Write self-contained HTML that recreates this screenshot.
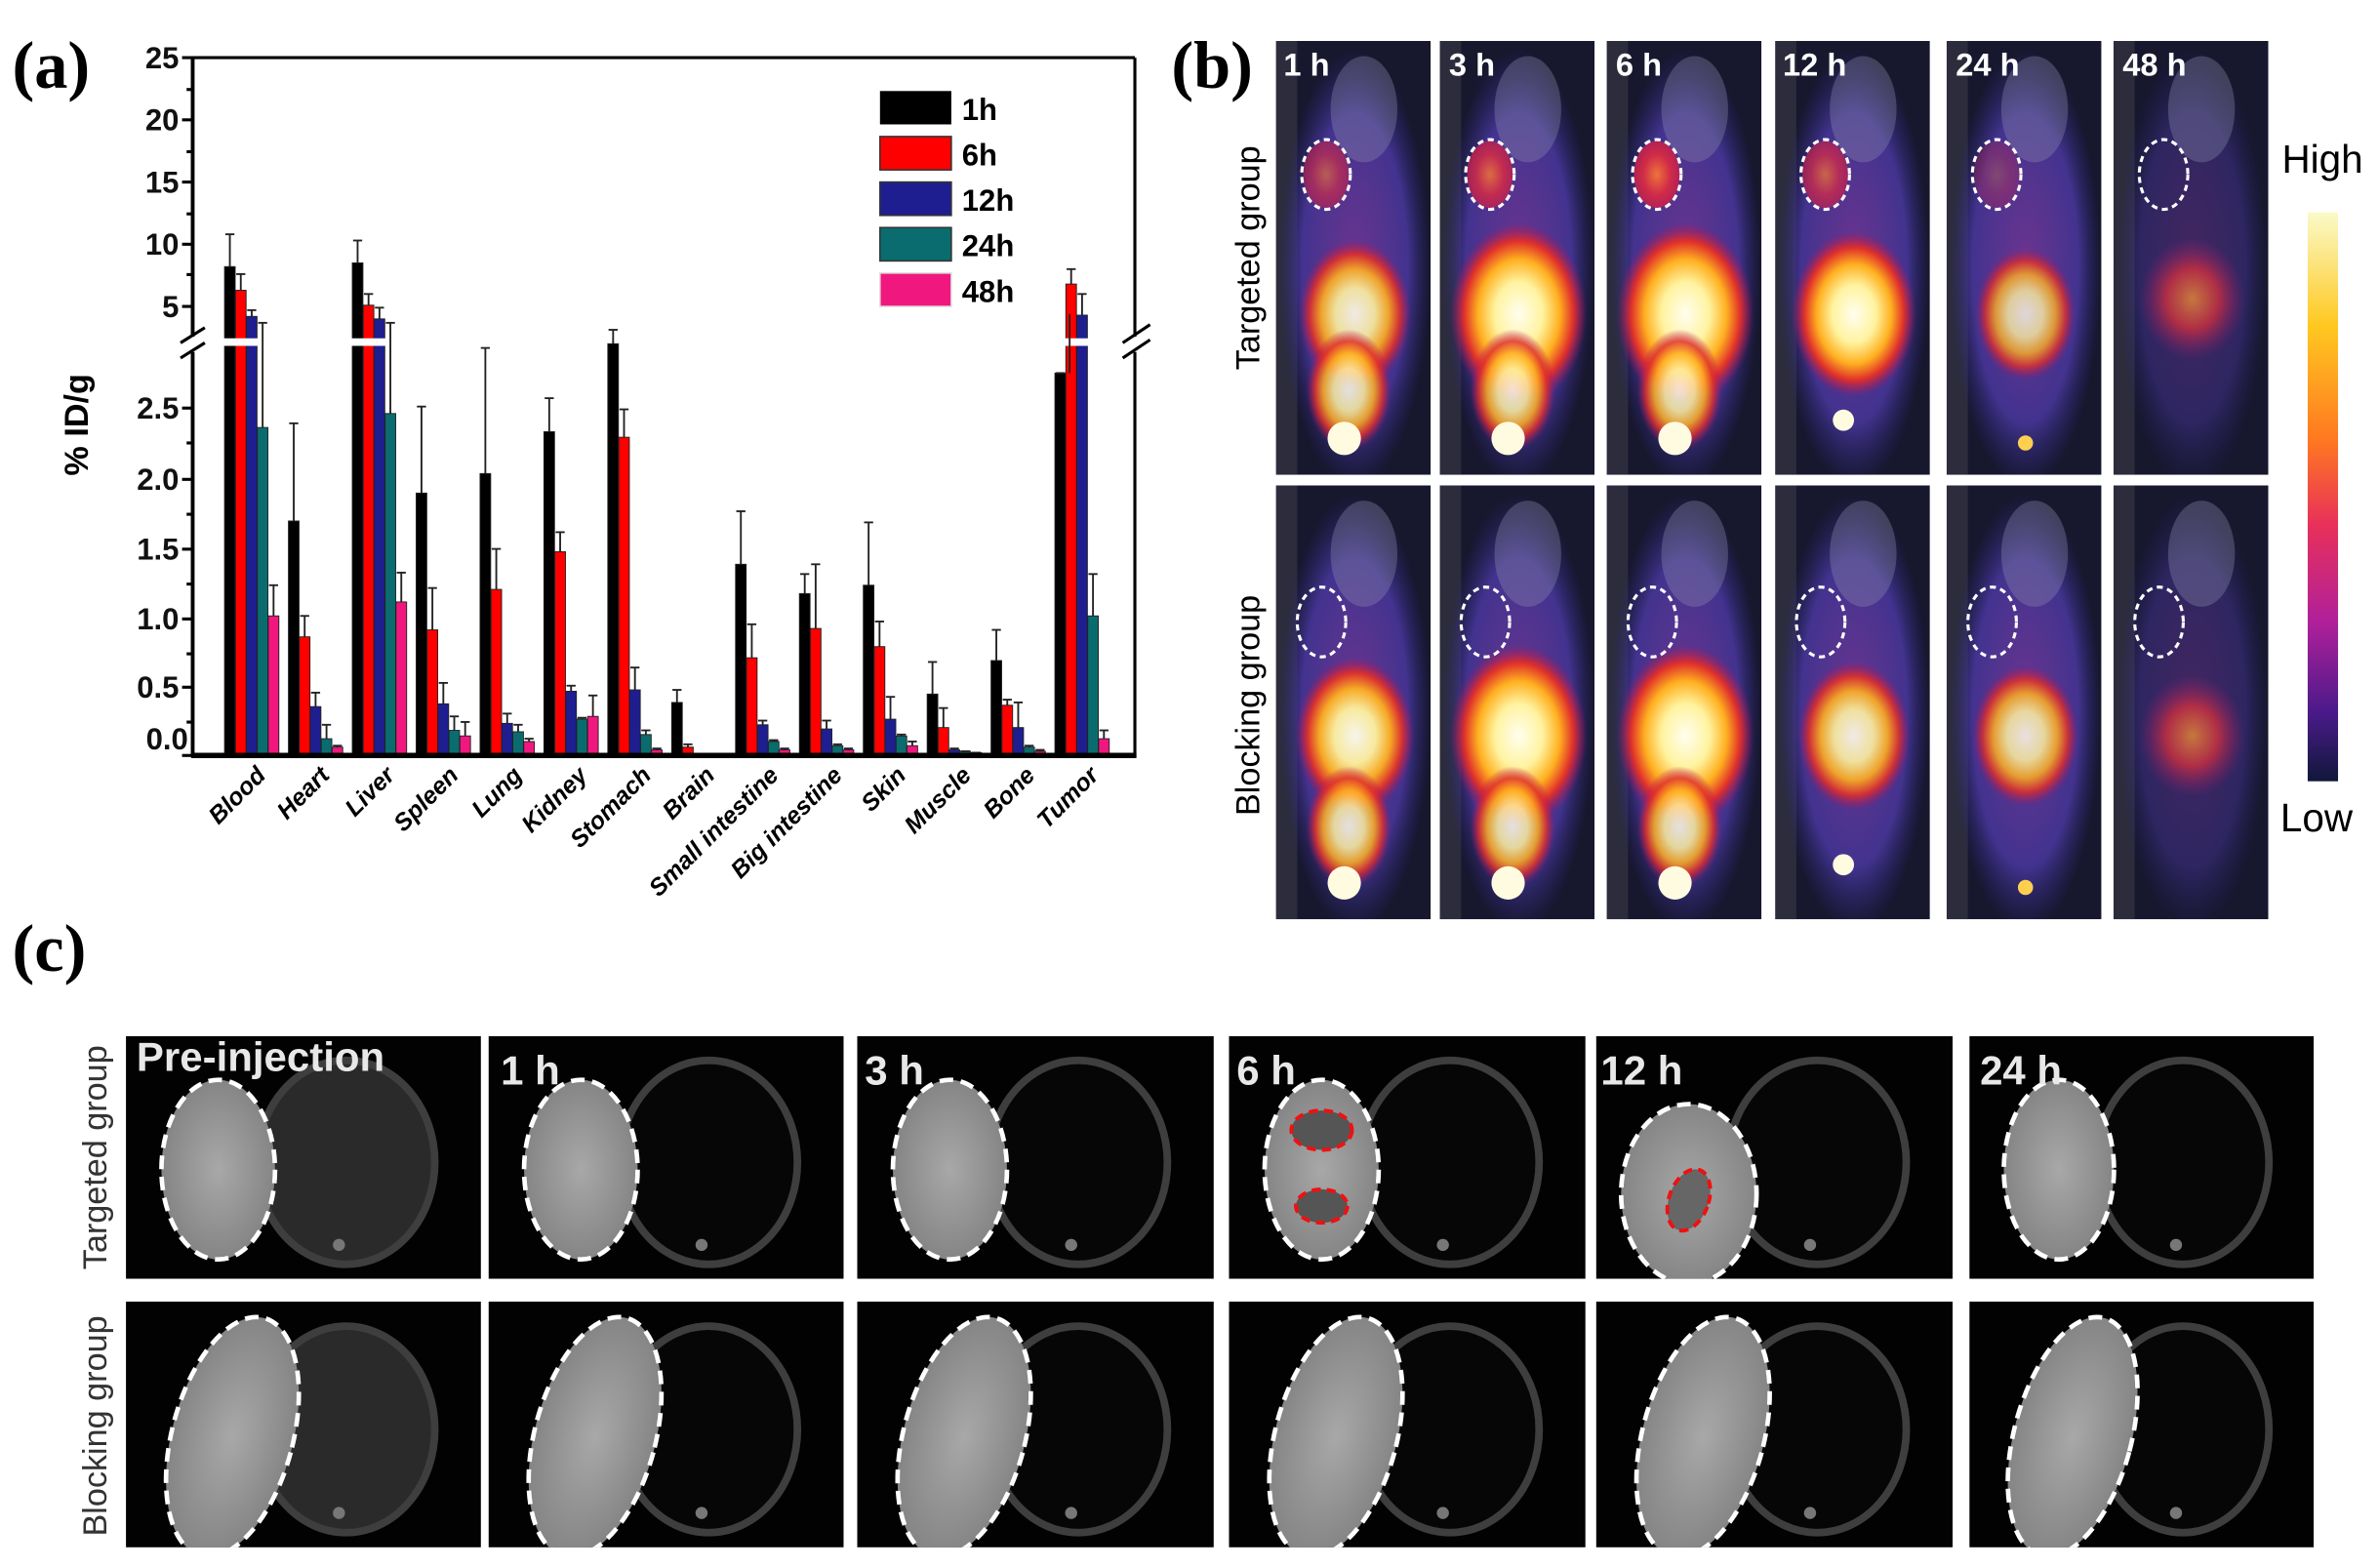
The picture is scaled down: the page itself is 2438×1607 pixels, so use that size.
<!DOCTYPE html>
<html><head><meta charset="utf-8">
<style>
html,body{margin:0;padding:0;background:#fff;}
svg{display:block;}
</style></head>
<body>
<svg id="s" width="2438" height="1607" viewBox="0 0 1568 1033.6" preserveAspectRatio="none" xmlns="http://www.w3.org/2000/svg" font-family="Liberation Sans, sans-serif">
<defs>
<radialGradient id="hot" cx="50%" cy="50%" r="50%">
<stop offset="0" stop-color="#fffef0"/><stop offset="0.35" stop-color="#fff3a0"/><stop offset="0.6" stop-color="#ffb020"/><stop offset="0.8" stop-color="#e0302a"/><stop offset="1" stop-color="#b01060" stop-opacity="0"/>
</radialGradient>
<radialGradient id="warm" cx="50%" cy="50%" r="50%">
<stop offset="0" stop-color="#ff9a30"/><stop offset="0.5" stop-color="#e0303a"/><stop offset="1" stop-color="#a01a70" stop-opacity="0"/>
</radialGradient>
<radialGradient id="body" cx="50%" cy="50%" r="50%">
<stop offset="0" stop-color="#7a3aa0"/><stop offset="0.7" stop-color="#4a38a0"/><stop offset="1" stop-color="#302a80" stop-opacity="0"/>
</radialGradient>
<radialGradient id="tum" cx="50%" cy="50%" r="50%">
<stop offset="0" stop-color="#ff7a30"/><stop offset="0.6" stop-color="#e02a40"/><stop offset="1" stop-color="#c02050"/>
</radialGradient>
<linearGradient id="cbar" x1="0" y1="0" x2="0" y2="1">
<stop offset="0" stop-color="#fafac8"/><stop offset="0.2" stop-color="#ffc820"/><stop offset="0.4" stop-color="#ff7820"/><stop offset="0.55" stop-color="#e8305a"/><stop offset="0.72" stop-color="#b0209a"/><stop offset="0.88" stop-color="#4a1a8a"/><stop offset="1" stop-color="#10183a"/>
</linearGradient>
<radialGradient id="tgray" cx="50%" cy="50%" r="50%">
<stop offset="0" stop-color="#a8a8a8"/><stop offset="1" stop-color="#858585"/>
</radialGradient>
</defs>

<text x="8" y="58" style="font-family:'Liberation Serif',serif" font-weight="bold" font-size="44">(a)</text>
<g id="bars"></g>
<g id="axes" stroke="#000" fill="none">
<line x1="127" y1="38" x2="748" y2="38" stroke-width="2"/>
<line x1="127" y1="38" x2="127" y2="222" stroke-width="2.5"/>
<line x1="127" y1="232" x2="127" y2="499" stroke-width="2.5"/>
<line x1="748" y1="38" x2="748" y2="222" stroke-width="2"/>
<line x1="748" y1="232" x2="748" y2="499" stroke-width="2"/>
<line x1="126" y1="498" x2="749" y2="498" stroke-width="3.5"/>
<line x1="119" y1="226" x2="135" y2="216" stroke-width="2"/>
<line x1="119" y1="236" x2="135" y2="226" stroke-width="2"/>
<line x1="740" y1="226" x2="758" y2="214" stroke-width="2"/>
<line x1="740" y1="236" x2="758" y2="224" stroke-width="2"/>
</g>
<g id="ticks" stroke="#000" stroke-width="2"></g>
<g font-weight="bold" font-size="20" text-anchor="end" fill="#111">
<text x="118" y="45">25</text><text x="118" y="86">20</text><text x="118" y="127">15</text><text x="118" y="168">10</text><text x="118" y="209">5</text>
<text x="118" y="276">2.5</text><text x="118" y="323">2.0</text><text x="118" y="369">1.5</text><text x="118" y="415">1.0</text><text x="118" y="460">0.5</text><text x="124" y="494">0.0</text>
</g>
<text transform="translate(58,280) rotate(-90)" text-anchor="middle" font-weight="bold" font-size="22">% ID/g</text>
<g>
<rect x="580" y="60" width="47" height="22" fill="#000"/>
<rect x="580" y="90" width="47" height="22" fill="#ff0000" stroke="#333"/>
<rect x="580" y="120" width="47" height="22" fill="#1e1e90" stroke="#333"/>
<rect x="580" y="150" width="47" height="22" fill="#0a6c6e" stroke="#333"/>
<rect x="580" y="180" width="47" height="22" fill="#f0187e" stroke="#ddd"/>
<g font-weight="bold" font-size="20"><text x="634" y="79">1h</text><text x="634" y="109">6h</text><text x="634" y="139">12h</text><text x="634" y="169">24h</text><text x="634" y="199">48h</text></g>
</g>
<g font-weight="bold" font-style="italic" font-size="16" text-anchor="end">
<text transform="translate(176,512) rotate(-45)">Blood</text>
<text transform="translate(218,512) rotate(-45)">Heart</text>
<text transform="translate(261,512) rotate(-45)">Liver</text>
<text transform="translate(303,512) rotate(-45)">Spleen</text>
<text transform="translate(345,512) rotate(-45)">Lung</text>
<text transform="translate(388,512) rotate(-45)">Kidney</text>
<text transform="translate(430,512) rotate(-45)">Stomach</text>
<text transform="translate(472,512) rotate(-45)">Brain</text>
<text transform="translate(514,512) rotate(-45)">Small intestine</text>
<text transform="translate(556,512) rotate(-45)">Big intestine</text>
<text transform="translate(598,512) rotate(-45)">Skin</text>
<text transform="translate(641,512) rotate(-45)">Muscle</text>
<text transform="translate(683,512) rotate(-45)">Bone</text>
<text transform="translate(725,512) rotate(-45)">Tumor</text>
</g>

<text x="772" y="58" style="font-family:'Liberation Serif',serif" font-weight="bold" font-size="44">(b)</text>
<g id="pet"></g>
<g font-weight="bold" font-size="21" fill="#fff">
<text x="846" y="50">1 h</text><text x="955" y="50">3 h</text><text x="1065" y="50">6 h</text><text x="1175" y="50">12 h</text><text x="1289" y="50">24 h</text><text x="1399" y="50">48 h</text>
</g>
<text transform="translate(830,170) rotate(-90)" text-anchor="middle" font-size="22">Targeted group</text>
<text transform="translate(830,465) rotate(-90)" text-anchor="middle" font-size="22">Blocking group</text>
<rect x="1521" y="140" width="20" height="375" fill="url(#cbar)"/>
<text x="1504" y="114" font-size="26">High</text>
<text x="1503" y="548" font-size="26">Low</text>

<text x="8" y="640" style="font-family:'Liberation Serif',serif" font-weight="bold" font-size="44">(c)</text>
<g id="mri"></g>
<g font-weight="bold" font-size="27" fill="#e8e8e8">
<text x="90" y="706">Pre-injection</text><text x="330" y="715">1 h</text><text x="570" y="715">3 h</text><text x="815" y="715">6 h</text><text x="1055" y="715">12 h</text><text x="1305" y="715">24 h</text>
</g>
<text transform="translate(70,763) rotate(-90)" text-anchor="middle" font-size="22" fill="#333">Targeted group</text>
<text transform="translate(70,940) rotate(-90)" text-anchor="middle" font-size="22" fill="#333">Blocking group</text>
</svg>
<script>
const NS="http://www.w3.org/2000/svg";
function el(p,t,a){const e=document.createElementNS(NS,t);for(const k in a)e.setAttribute(k,a[k]);p.appendChild(e);return e;}
const cols=["#000","#ff0000","#1e1e90","#0a6c6e","#f0187e"];
const D=[
[[8.2,10.8,1],[6.3,7.6,1],[4.2,4.7,1],[2.35,3.1,0],[1.0,1.22,0]],
[[1.68,2.38],[0.85,1.0],[0.35,0.45],[0.12,0.22],[0.06,0.07]],
[[8.5,10.3,1],[5.1,6,1],[4.0,4.9,1],[2.45,3.1,0],[1.1,1.31,0]],
[[1.88,2.5],[0.9,1.2],[0.37,0.52],[0.18,0.28],[0.14,0.24]],
[[2.02,2.92],[1.19,1.48],[0.23,0.3],[0.17,0.22],[0.1,0.12]],
[[2.32,2.56],[1.46,1.6],[0.46,0.5],[0.26,0.27],[0.28,0.43]],
[[2.95,3.05],[2.28,2.48],[0.47,0.63],[0.15,0.18],[0.04,0.05]],
[[0.38,0.47],[0.06,0.08],[0.01,0.01],[0.01,0.01],[0.01,0.01]],
[[1.37,1.75],[0.7,0.94],[0.22,0.25],[0.1,0.11],[0.04,0.05]],
[[1.16,1.3],[0.91,1.37],[0.19,0.25],[0.07,0.08],[0.04,0.05]],
[[1.22,1.67],[0.78,0.96],[0.26,0.42],[0.14,0.15],[0.07,0.1]],
[[0.44,0.67],[0.2,0.34],[0.04,0.05],[0.03,0.03],[0.02,0.02]],
[[0.68,0.9],[0.36,0.4],[0.2,0.38],[0.06,0.07],[0.03,0.04]],
[[2.74,2.74],[6.8,8,1],[4.3,6,1],[1.0,1.3],[0.12,0.18]]];
function Y(v,u){return u?202-(v-5)*8.2:498-v*92;}
const B=document.getElementById("bars");
D.forEach((g,i)=>{const x0=148+i*42.1;g.forEach((b,j)=>{const x=x0+j*7.2,u=b[2]||0,t=Y(b[0],u),e=Y(b[1],u);
el(B,"rect",{x:x,y:t,width:7,height:498-t,fill:cols[j],stroke:"#222","stroke-width":0.6});
el(B,"line",{x1:x+3.5,y1:e,x2:x+3.5,y2:t,stroke:"#222","stroke-width":1.2});
el(B,"line",{x1:x+0.5,y1:e,x2:x+6.5,y2:e,stroke:"#222","stroke-width":1.2});
if(u) el(B,"rect",{x:x-0.5,y:223,width:8,height:5,fill:"#fff"});});});
el(B,"line",{x1:705,y1:207,x2:705,y2:246,stroke:"#222","stroke-width":1.2});
const T=document.getElementById("ticks");
[38,79,120,161,202].forEach(y=>el(T,"line",{x1:120,y1:y,x2:127,y2:y}));
[59,100,141,181].forEach(y=>el(T,"line",{x1:123,y1:y,x2:127,y2:y}));
[269,316,362,408,453,498].forEach(y=>el(T,"line",{x1:120,y1:y,x2:127,y2:y}));
[292,339,385,431,476].forEach(y=>el(T,"line",{x1:123,y1:y,x2:127,y2:y}));
// PET
const P=document.getElementById("pet");
const px=[841,949,1059,1170,1283,1393];
const liv=[[0.8,1,1,0.9,0.7,0.25],[0.85,1,1,0.8,0.75,0.3]];
const tum=[0.6,0.8,0.9,0.7,0.3,0];
[27,320].forEach((y,r)=>px.forEach((x,c)=>{
const cp=el(P,"clipPath",{id:"c"+r+c});el(cp,"rect",{x:x,y:y,width:102,height:286});
const g=el(P,"g",{"clip-path":"url(#c"+r+c+")"});
el(g,"rect",{x:x,y:y,width:102,height:286,fill:"#17172e"});
el(g,"rect",{x:x,y:y,width:14,height:286,fill:"#3a3a48",opacity:0.6});
el(g,"ellipse",{cx:x+52,cy:y+150,rx:50,ry:145,fill:"url(#body)",opacity:c==5?0.45:0.85});
el(g,"ellipse",{cx:x+58,cy:y+45,rx:22,ry:35,fill:"#9090b0",opacity:0.35});
const L=liv[r][c];
if(L>0.5){el(g,"ellipse",{cx:x+52,cy:y+(r?165:180),rx:40*L+5,ry:55*L+5,fill:"url(#hot)",opacity:Math.min(1,L+0.1)});}
else el(g,"ellipse",{cx:x+52,cy:y+(r?165:170),rx:35,ry:40,fill:"url(#warm)",opacity:0.7});
if(c<3) el(g,"ellipse",{cx:x+48,cy:y+(r?225:230),rx:28,ry:40,fill:"url(#hot)",opacity:0.85});
if(c<4) el(g,"circle",{cx:x+45,cy:y+(c==3?250:262),r:c==3?7:11,fill:"#fffbe0"});
if(c==4) el(g,"circle",{cx:x+52,cy:y+265,r:5,fill:"#ffd050"});
const tx=x+(r?30:33),ty=y+(r?90:88);
if(r==0&&tum[c]>0) el(g,"ellipse",{cx:tx,cy:ty,rx:15,ry:22,fill:"url(#tum)",opacity:tum[c]});
el(g,"ellipse",{cx:tx,cy:ty,rx:16,ry:23,fill:"none",stroke:"#fff","stroke-width":2,"stroke-dasharray":"4 3"});
}));
// MRI
const M=document.getElementById("mri");
const mx=[[83,234],[322,234],[565,235],[810,235],[1052,235],[1298,227]];
const rows=[[683,160],[858,162]];
rows.forEach((rw,r)=>mx.forEach((m,c)=>{
const x=m[0],y=rw[0],w=m[1],h=rw[1];
const cp=el(M,"clipPath",{id:"m"+r+c});el(cp,"rect",{x:x,y:y,width:w,height:h});
const g=el(M,"g",{"clip-path":"url(#m"+r+c+")"});
el(g,"rect",{x:x,y:y,width:w,height:h,fill:"#020202"});
el(g,"ellipse",{cx:x+w*0.62,cy:y+h*0.52,rx:w*0.25,ry:h*0.42,fill:c==0?"#2a2a2a":"#060606",stroke:"#3e3e3e","stroke-width":5});
el(g,"circle",{cx:x+w*0.6,cy:y+h*0.86,r:4,fill:"#777"});
let tx,ty,rx,ry,rot;
if(r==0){tx=x+w*0.26;ty=y+h*0.55;rx=w*0.16;ry=h*0.37;rot=0;if(c==4){ty=y+h*0.65;rx=w*0.19;}}
else{tx=x+w*0.3;ty=y+h*0.55;rx=w*0.17;ry=h*0.5;rot=15;}
el(g,"ellipse",{cx:tx,cy:ty,rx:rx,ry:ry,fill:"url(#tgray)",stroke:"#fff","stroke-width":3,"stroke-dasharray":"9 5",transform:`rotate(${rot} ${tx} ${ty})`});
if(r==0&&c==3){el(g,"ellipse",{cx:tx,cy:y+62,rx:20,ry:13,fill:"#555",stroke:"#f01010","stroke-width":2.5,"stroke-dasharray":"6 4"});
el(g,"ellipse",{cx:tx,cy:y+112,rx:17,ry:11,fill:"#555",stroke:"#f01010","stroke-width":2.5,"stroke-dasharray":"6 4"});}
if(r==0&&c==4) el(g,"ellipse",{cx:tx,cy:y+108,rx:13,ry:21,fill:"#666",stroke:"#f01010","stroke-width":2.5,"stroke-dasharray":"6 4",transform:`rotate(20 ${tx} ${y+108})`});
}));
</script>
</body></html>
